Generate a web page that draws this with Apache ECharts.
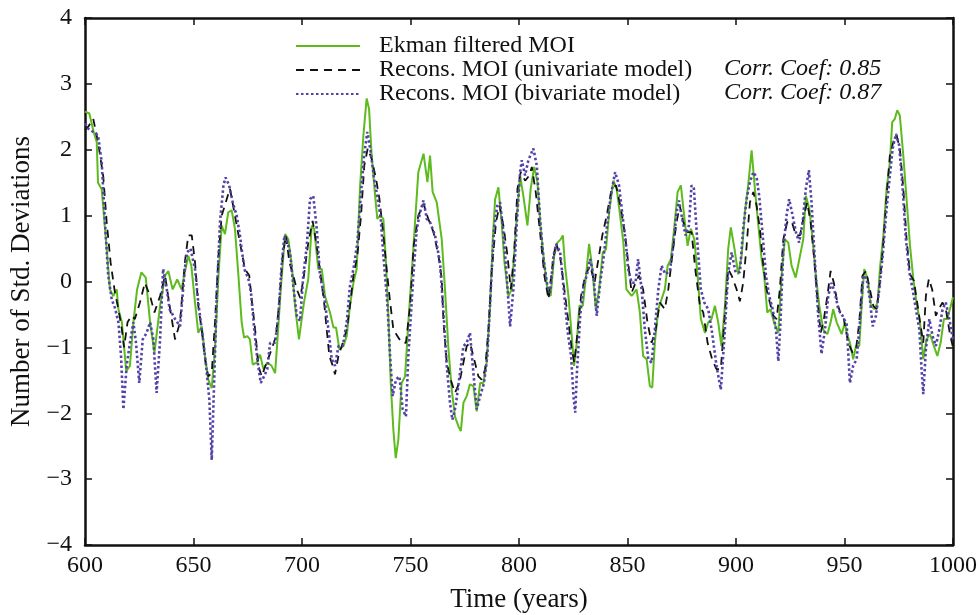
<!DOCTYPE html>
<html>
<head>
<meta charset="utf-8">
<script src="https://cdn.jsdelivr.net/npm/echarts@6/dist/echarts.min.js"></script>
<style>
  html, body { margin: 0; padding: 0; background: #fff; }
  #chart { width: 978px; height: 615px; }
</style>
</head>
<body>
<div id="chart"></div>
<script>
// values, [year, std devs]
const ekman = [
  [600,2.58],[602,2.55],[604,2.27],[605.4,2.12],[606,1.5],[607.7,1.4],[610,0.49],[611.5,-0.12],[613,-0.22],[614.6,-0.12],
  [615.4,-0.42],[617,-0.62],[619,-1.36],[620.7,-1.28],[622.3,-0.62],[624,-0.12],[626,0.14],[628,0.06],[630,-0.62],[632,-1.08],
  [634.6,-0.37],[636.9,0.09],[638.4,0.16],[640.4,-0.12],[642.5,0.03],[644.5,-0.12],[646,0.14],[647.6,0.39],[649,0.24],[650.7,-0.32],
  [652.2,-0.78],[653.8,-0.68],[655.3,-1.13],[656.8,-1.49],[658.4,-1.62],[659.9,-1.03],[661.5,0.09],[663,0.85],[664.5,0.72],[666,1.05],
  [667.6,1.08],[669.1,0.8],[670.7,0.09],[672.2,-0.62],[673.3,-0.85],[674.8,-0.83],[676,-0.88],[677.3,-1.26],[679.1,-1.23],[680.7,-1.11],
  [682.2,-1.33],[684,-1.23],[686,-1.28],[687.6,-1.39],[688.6,-0.93],[690.2,-0.12],[692.2,0.72],[693.7,0.64],[695.3,0.24],[696.8,-0.37],
  [698.6,-0.88],[700.9,-0.32],[702.9,0.04],[704.5,0.85],[705.6,0.8],[707.5,0.19],[709.1,0.19],[710.6,-0.22],[712.9,-0.47],[714.5,-0.7],
  [715.7,-0.7],[717.2,-1.03],[719.1,-0.98],[720.6,-0.83],[722.1,-0.37],[723.7,-0.02],[725.2,0.19],[726.7,1.41],[728.3,2.22],[729.8,2.78],
  [730.9,2.62],[732.1,1.91],[733.7,1.3],[734.7,0.95],[736,1.0],[737.5,0.95],[738.7,0.29],[739.8,-0.52],[740.9,-1.54],[742.1,-2.25],
  [743.2,-2.68],[744.4,-2.4],[745.9,-1.54],[747.5,-1.44],[749,-0.62],[750.5,0.1],[752.1,0.9],[753.6,1.66],[756,1.94],[757.8,1.51],
  [759,1.91],[760.2,1.36],[762.1,1.2],[764.4,0.64],[765.9,-0.12],[767.5,-1.03],[769,-1.64],[770.5,-2.05],[772.1,-2.2],[773.2,-2.27],
  [774.4,-1.84],[775.9,-1.74],[777.4,-1.56],[779,-1.59],[780.5,-1.97],[782.1,-1.54],[783.6,-1.54],[785.1,-1.23],[786.7,-0.37],[787.9,0.64],
  [789,1.25],[790.5,1.43],[792,0.9],[793.3,0.29],[795.1,-0.22],[796.7,-0.12],[798.2,0.64],[800.5,1.61],[802,1.3],[803.9,0.85],
  [805.4,1.41],[807,1.74],[808.5,1.51],[810,0.8],[811.6,0.29],[813.1,-0.12],[814.6,-0.22],[816.2,0.39],[817.7,0.59],[819.2,0.64],
  [820.2,0.7],[821.2,0.24],[822.8,-0.22],[824.3,-0.83],[825.4,-1.28],[826.6,-0.93],[827.8,-0.37],[829.4,-0.37],[830.9,0.09],[832.3,0.57],
  [833.8,0.19],[835.4,-0.42],[836.9,-0.12],[838.6,0.44],[840.1,0.49],[841.7,1.1],[843.5,1.53],[845,1.41],[846.6,1.0],[848.1,0.59],
  [849.5,-0.12],[851.9,-0.22],[854.2,-0.12],[855.7,-0.47],[857.2,-1.13],[858.8,-1.18],[860.3,-1.59],[861.4,-1.61],[862.6,-0.93],[864.2,-0.42],
  [865.7,-0.27],[867.2,-0.12],[868.5,0.24],[870,0.34],[871.5,0.8],[873.1,1.36],[874.6,1.46],[876.1,1.0],[877.7,0.54],[879.2,0.8],
  [880.8,0.64],[882.3,0.09],[883.8,-0.57],[885.7,-0.78],[887.2,-0.62],[888.7,-0.57],[890.3,-0.37],[891.8,-0.62],[893.3,-0.98],[894.9,-0.37],
  [896.4,0.49],[897.6,0.82],[899.3,0.5],[901,0.11],[902.6,0.39],[904.1,1.05],[905.6,1.46],[907.2,1.99],[908.7,1.41],[910.3,0.85],
  [911.8,0.34],[913,0.09],[914.4,-0.47],[915.9,-0.42],[917.5,-0.62],[919.5,-0.78],[921,0.09],[922.5,0.64],[924.1,0.59],[925.6,0.24],
  [927.5,0.06],[929.5,0.39],[931,0.64],[932.2,1.3],[933.8,1.1],[935.3,0.64],[936.8,0.09],[938.4,-0.37],[940.2,-0.73],[942.1,-0.8],
  [943.6,-0.62],[944.8,-0.42],[946.4,-0.62],[948.7,-0.8],[950.2,-0.62],[951,-0.78],[952.5,-0.93],[954,-1.18],[955.3,-0.98],[956.8,-0.98],
  [958,-0.32],[959.1,0.19],[960.7,0.04],[962.2,-0.37],[963.7,-0.42],[965.3,-0.32],[966.3,0.19],[967.9,0.7],[969.4,1.41],[970.9,1.81],
  [972,2.42],[973.2,2.47],[974.3,2.6],[975.5,2.52],[977.1,1.91],[978.6,1.25],[980.2,0.54],[981.7,0.04],[983.2,-0.32],[984.8,-0.62],
  [986.3,-1.18],[987.8,-0.88],[989.4,-0.8],[991.2,-0.98],[992.8,-1.13],[994.3,-0.93],[995.8,-0.57],[997.4,-0.57],[1000,-0.24]
]

const univariate = [
  [600,2.3],[601.5,2.35],[603.8,2.47],[606,2.12],[608.4,1.6],[610,0.9],[611.8,0.29],[613.8,-0.17],[615.4,-0.42],[617,-0.73],
  [618,-1.0],[619.6,-0.62],[621.5,-0.52],[623,-0.57],[625.3,-0.32],[627.6,-0.02],[630,-0.22],[632,-0.47],[634.6,-0.22],[636.9,0.09],
  [639,-0.37],[641.5,-0.88],[643.8,-0.62],[646,0.29],[647.6,0.7],[649.2,0.7],[650.7,0.29],[652.2,-0.37],[653.8,-0.73],[655.3,-1.18],
  [656.8,-1.44],[658.4,-1.39],[659.9,-0.62],[661.5,0.39],[663,1.0],[665.3,1.25],[666.8,1.41],[669.1,1.0],[671.4,0.59],[673.7,0.19],
  [675.7,0.09],[676.8,-0.27],[678.4,-0.73],[679.9,-1.28],[681.4,-1.44],[683.7,-1.23],[686,-1.03],[688,-0.83],[689.6,-0.27],[691.1,0.39],
  [692.6,0.7],[694.2,0.29],[696,0.09],[697.6,-0.12],[699.2,-0.25],[700.9,0.09],[702.9,0.59],[704.9,0.92],[706.8,0.54],[708.6,0.09],
  [710.2,-0.32],[711.4,-0.73],[712.6,-1.13],[714.2,-1.28],[715.2,-1.41],[716.8,-1.13],[718.8,-0.93],[720.6,-0.73],[722.1,-0.37],[723.7,0.09],
  [725.5,0.39],[727.2,1.0],[728.7,1.76],[730.3,2.02],[732.1,1.86],[734.1,1.56],[735.7,1.25],[737.2,0.8],[738.7,0.29],[740.3,-0.22],
  [742.1,-0.73],[744,-0.83],[745.9,-0.93],[747.9,-0.93],[749.8,-0.37],[751.5,0.55],[753.6,1.0],[756,1.18],[758.2,0.95],[760.6,0.75],
  [762.9,0.39],[764.4,0.04],[765.2,-0.62],[766.7,-1.23],[768.5,-1.49],[770.5,-1.69],[772.5,-1.54],[774.1,-1.28],[775.9,-0.98],[777.4,-0.93],
  [779.3,-1.18],[781.3,-1.44],[782.8,-1.49],[784.4,-1.33],[785.9,-0.73],[787.4,0.14],[789.4,0.9],[791,1.15],[792.8,0.85],[794.7,0.39],
  [796.2,-0.12],[797.7,0.39],[799.3,1.41],[800.8,1.66],[802.8,1.53],[804.8,1.61],[805.9,1.74],[807.7,1.36],[809.7,0.75],[811.7,0.09],
  [813.6,-0.27],[815.4,0.24],[817,0.59],[818.9,0.39],[820.9,-0.12],[822.8,-0.62],[824.3,-1.03],[825.5,-1.23],[827.1,-0.73],[828.6,-0.22],
  [830.5,0.09],[832.8,0.24],[834.8,-0.02],[836.6,0.34],[838.4,0.7],[840.4,1.0],[842.7,1.41],[844.7,1.46],[847,1.1],[848.9,0.7],
  [850.3,0.29],[851.9,-0.17],[853.7,-0.02],[855.3,0.09],[857.2,-0.12],[859.2,-0.62],[861.1,-0.93],[863,-0.73],[864.9,-0.32],[867.2,-0.42],
  [868.8,-0.12],[870.6,0.39],[872.6,0.9],[874.1,1.15],[875.7,0.9],[877.7,0.75],[879.5,0.75],[881.4,0.14],[883.4,-0.37],[884.9,-0.47],
  [886.9,-0.93],[889,-1.18],[891,-1.33],[893,-1.33],[894.6,-0.62],[896.4,0.19],[898,0.09],[900.3,-0.12],[901.8,-0.3],[903.3,-0.02],
  [904.9,0.54],[906.4,1.2],[908,1.36],[909.5,1.15],[911,0.8],[912.6,0.24],[914.1,-0.12],[915.6,-0.32],[917.2,-0.52],[918.7,-0.57],
  [920.2,-0.12],[921.8,0.64],[923.6,0.9],[925.6,0.92],[927.6,0.7],[929.5,0.7],[931.3,1.0],[932.8,1.2],[934.4,0.9],[935.9,0.39],
  [937.4,-0.22],[939,-0.78],[940.5,-0.57],[942.1,-0.22],[943.6,0.16],[945.1,-0.02],[946.7,-0.32],[948.2,-0.5],[949.7,-0.57],[951.7,-0.93],
  [953.7,-1.08],[955.3,-1.03],[956.8,-0.62],[958.3,0.09],[959.9,0.16],[961.7,-0.12],[963.3,-0.37],[964.8,-0.42],[966.3,-0.02],[967.9,0.59],
  [969.4,1.3],[970.9,1.91],[972.5,2.12],[974,2.22],[975.5,2.02],[977.1,1.41],[978.6,0.64],[980.2,0.11],[982,0.01],[983.5,-0.32],
  [985.1,-0.68],[986.3,-0.93],[987.5,-0.22],[988.9,0.04],[990.4,-0.12],[992.1,-0.52],[993.7,-0.4],[995.2,-0.32],[996.7,-0.42],[998.6,-0.8],
  [1000,-1.0]
]

const bivariate = [
  [600,2.4],[601.5,2.32],[603.8,2.27],[606,2.22],[607.7,1.81],[609.2,0.9],[610.7,0.09],[612.3,-0.27],[613.8,-0.4],[615.4,-0.62],
  [616.6,-1.13],[617.7,-1.94],[619.2,-1.28],[620.7,-0.93],[622.3,-0.62],[623.5,-0.93],[625,-1.54],[626.6,-0.88],[628.4,-0.78],[630,-0.62],
  [631.5,-0.88],[633,-1.69],[634.6,-0.88],[636,0.19],[637.7,-0.12],[639,-0.42],[641.5,-0.57],[643.8,-0.68],[646,0.19],[647,0.44],
  [648.6,0.5],[650.7,0.19],[652.2,-0.32],[654.2,-0.83],[655.8,-1.28],[657.3,-1.79],[658.4,-2.71],[659.5,-1.54],[660.7,-0.22],[662.2,0.9],
  [663.8,1.46],[664.8,1.58],[666.4,1.46],[668.1,1.2],[669.9,1.0],[671.4,0.7],[673.4,0.19],[675.3,0.04],[676.5,-0.17],[678,-0.73],
  [679.6,-1.23],[681,-1.54],[682.5,-1.44],[684,-1.33],[685.3,-0.93],[687.6,-0.93],[689.1,-0.52],[690.6,0.24],[691.9,0.7],[692.9,0.64],
  [694.5,0.44],[696,-0.07],[697.6,-0.52],[699.1,-0.6],[700.6,0.09],[702.2,0.54],[703.7,1.25],[705.2,1.3],[706.8,0.8],[708.3,0.09],
  [710.2,-0.22],[712.2,-0.73],[713.7,-1.18],[715.2,-1.28],[716.8,-0.98],[718.8,-0.98],[720.6,-0.62],[722.1,-0.07],[723.7,0.19],[725.5,0.59],
  [727.1,1.3],[728.6,1.91],[730.1,2.27],[731.7,1.96],[733.2,1.56],[734.7,1.3],[736.3,0.95],[737.5,0.39],[739.3,-0.32],[740.6,-1.13],
  [741.8,-1.74],[743.3,-1.49],[744.9,-1.44],[746.4,-1.94],[747.9,-2.05],[749,-1.13],[750.2,-0.5],[751.3,0.09],[752.9,0.8],[754.4,1.05],
  [756,1.23],[757.5,0.95],[759,0.9],[761.3,0.7],[763.6,0.29],[765.2,-0.47],[766.7,-1.28],[768.2,-1.84],[769.3,-2.1],[770.8,-1.89],
  [772.8,-1.39],[774.4,-0.98],[775.9,-0.93],[777.4,-0.78],[779,-1.39],[780.5,-1.94],[782.1,-1.74],[783.9,-1.54],[785.4,-1.13],[787,-0.12],
  [788.5,0.8],[790,1.15],[791.3,1.2],[792.8,0.75],[794.3,0.09],[795.9,-0.68],[797.4,-0.12],[799,0.9],[800.5,1.66],[801.3,1.84],
  [802.8,1.61],[804.3,1.84],[806.6,2.02],[808.2,1.76],[809.7,0.95],[811.3,0.34],[813.1,-0.07],[814.3,-0.17],[815.9,0.39],[817.1,0.57],
  [819,0.44],[820.9,-0.22],[822.5,-0.78],[824,-1.13],[825.1,-1.74],[825.9,-1.99],[826.6,-1.44],[828.2,-0.52],[829.7,-0.07],[831.2,0.09],
  [832.8,0.34],[834.3,0.09],[835.8,-0.52],[837.4,-0.02],[838.9,0.34],[840.4,0.8],[842.3,1.3],[844.3,1.66],[846.1,1.46],[847.7,1.0],
  [849.2,0.6],[850.3,0.19],[851.9,-0.02],[853.7,-0.02],[854.9,0.34],[856.5,-0.12],[858,-0.73],[859.6,-1.18],[861.1,-1.23],[862.6,-0.73],
  [864.2,-0.12],[865.7,0.24],[867.5,0.11],[869.5,0.16],[871.1,0.54],[872.6,1.05],[873.7,1.23],[875.2,0.95],[876.8,0.7],[878.3,0.85],
  [879.5,1.46],[880.6,1.41],[882.1,0.64],[883.8,-0.12],[885.4,-0.32],[887.2,-0.42],[889,-0.78],[891,-1.28],[893,-1.64],[894.6,-0.88],
  [896.4,0.14],[898,0.44],[899.8,0.14],[901.8,0.14],[903.3,0.8],[904.9,1.25],[906.4,1.51],[908,1.66],[909.5,1.58],[910.7,1.3],
  [912.3,0.7],[913.8,0.09],[915.3,-0.22],[916.9,-0.42],[918.4,-0.73],[919.5,-1.21],[920.5,-0.62],[921.8,0.49],[923.3,1.0],[924.5,1.25],
  [926.1,1.0],[927.6,0.75],[929.1,0.59],[930.7,0.9],[932.2,1.41],[933.6,1.69],[934.8,1.2],[936.4,0.29],[937.9,-0.52],[939.4,-1.1],
  [941,-0.73],[942.5,-0.22],[944,-0.02],[945.6,-0.17],[947.1,-0.42],[949.1,-0.52],[951,-0.65],[952.5,-1.54],[954,-1.28],[955.6,-1.18],
  [957.1,-0.62],[958.6,0.09],[960.2,0.04],[961.7,-0.27],[963,-0.68],[964.5,-0.52],[966,-0.12],[967.6,0.39],[969.1,1.0],[970.6,1.51],
  [972.2,2.02],[973.7,2.24],[975.2,2.07],[976.8,1.41],[978.3,0.64],[979.9,0.14],[981.4,-0.12],[982.9,-0.42],[984.5,-0.73],[985.5,-1.33],
  [986.3,-1.71],[987.5,-1.03],[989.1,-0.57],[990.6,-0.83],[992.1,-0.98],[993.7,-0.73],[995.2,-0.42],[996.7,-0.32],[998.6,-0.62],[1000,-0.88]
]

const seriesNames = ['Ekman filtered MOI', 'Recons. MOI (univariate model)', 'Recons. MOI (bivariate model)']
const corrLabels = ['Corr. Coef: 0.85', 'Corr. Coef: 0.87']

const FONT = '"Liberation Serif", "DejaVu Serif", serif'
const GREEN = '#5dbb1e'
const BLUE = '#5243a8'

const frameAxis = {
  axisLine: { show: true, onZero: false, lineStyle: { color: '#111', width: 2.5 } },
  axisTick: { show: true, inside: true, length: 7, lineStyle: { color: '#111', width: 1.5 } },
  splitLine: { show: false }
}

const chart = echarts.init(document.getElementById('chart'), null, { renderer: 'canvas' })

chart.setOption({
  animation: false,
  backgroundColor: '#fff',
  grid: { left: 85, right: 25, top: 18, bottom: 70, containLabel: false, outerBoundsMode: 'none' },
  legend: {
    orient: 'vertical',
    left: 290,
    top: 29,
    itemWidth: 64,
    itemHeight: 14,
    itemGap: 0,
    itemStyle: { opacity: 0 },
    textStyle: { fontFamily: FONT, fontSize: 24, lineHeight: 24, color: '#111', padding: [0, 0, 0, 14] },
    data: seriesNames
  },
  xAxis: [
    Object.assign({
      type: 'value', min: 600, max: 1000, interval: 50, position: 'bottom',
      name: 'Time (years)', nameLocation: 'middle', nameGap: 41,
      nameTextStyle: { fontFamily: FONT, fontSize: 27, color: '#111' },
      axisLabel: { fontFamily: FONT, fontSize: 24, color: '#111', margin: 9, formatter: v => String(v) }
    }, frameAxis),
    Object.assign({
      type: 'value', min: 600, max: 1000, interval: 50, position: 'top',
      axisLabel: { show: false }
    }, frameAxis)
  ],
  yAxis: [
    Object.assign({
      type: 'value', min: -4, max: 4, interval: 1, position: 'left',
      name: 'Number of Std. Deviations', nameLocation: 'middle', nameGap: 49,
      nameTextStyle: { fontFamily: FONT, fontSize: 27, color: '#111' },
      axisLabel: {
        fontFamily: FONT, fontSize: 24, color: '#111', margin: 13,
        formatter: v => String(v).replace('-', '\u2212')
      }
    }, frameAxis),
    Object.assign({
      type: 'value', min: -4, max: 4, interval: 1, position: 'right',
      axisLabel: { show: false }
    }, frameAxis)
  ],
  graphic: [
    {
      type: 'text', left: 724, top: 57,
      style: { text: corrLabels[0], fontFamily: FONT, fontStyle: 'italic', fontSize: 24, fill: '#111' }
    },
    {
      type: 'text', left: 724, top: 81,
      style: { text: corrLabels[1], fontFamily: FONT, fontStyle: 'italic', fontSize: 24, fill: '#111' }
    }
  ],
  series: [
    {
      name: seriesNames[0], type: 'line', data: ekman, showSymbol: false, symbol: 'none',
      lineStyle: { color: GREEN, width: 2 }, itemStyle: { color: GREEN }, z: 3
    },
    {
      name: seriesNames[1], type: 'line', data: univariate, showSymbol: false, symbol: 'none',
      lineStyle: { color: '#111', width: 1.8, type: [8, 6] }, itemStyle: { color: '#111' }, z: 4
    },
    {
      name: seriesNames[2], type: 'line', data: bivariate, showSymbol: false, symbol: 'none',
      lineStyle: { color: BLUE, width: 2.6, type: [2.5, 2.5] }, itemStyle: { color: BLUE }, z: 5
    }
  ]
})
</script>
</body>
</html>
